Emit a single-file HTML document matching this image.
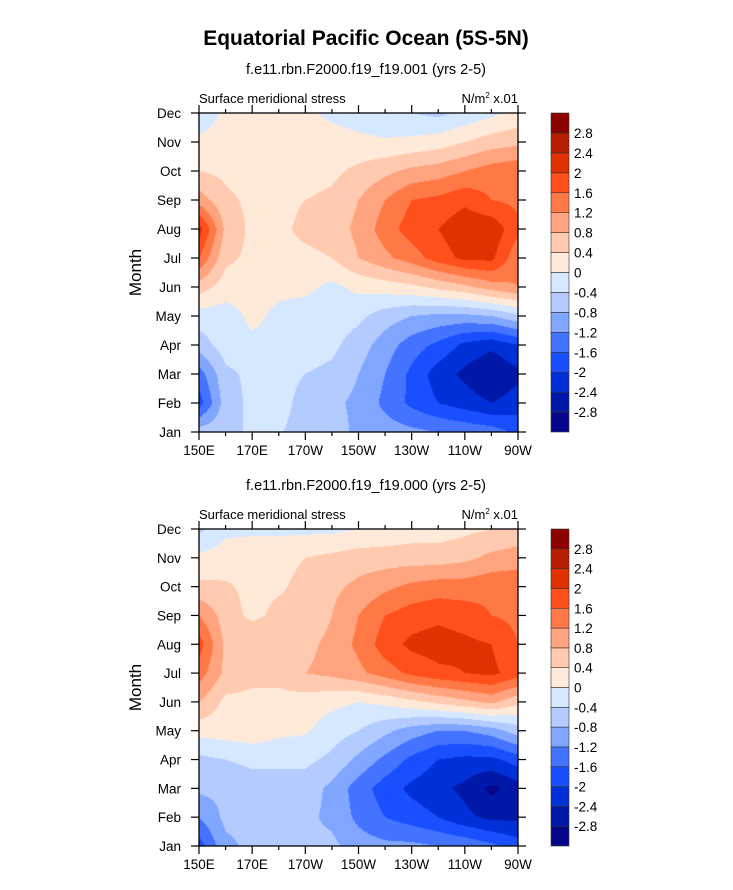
<!DOCTYPE html>
<html><head><meta charset="utf-8">
<style>
html,body{margin:0;padding:0;background:#fff;}
body{width:733px;height:890px;position:relative;overflow:hidden;font-family:"Liberation Sans",Arial,sans-serif;}
canvas{position:absolute;}
svg{position:absolute;left:0;top:0;}
</style></head>
<body>
<canvas id="c1" width="319" height="319" style="left:199px;top:113px;width:319px;height:319px"></canvas>
<canvas id="c2" width="319" height="317" style="left:199px;top:529px;width:319px;height:317px"></canvas>
<svg id="svg" width="733" height="890"></svg>
<script>
const months = ["Jan","Feb","Mar","Apr","May","Jun","Jul","Aug","Sep","Oct","Nov","Dec"];
const lons = [150,160,170,180,190,200,210,220,230,240,250,260,270];
const lonTicks = [150,170,190,210,230,250,270];
const lonTickLabels = ["150E","170E","170W","150W","130W","110W","90W"];
const levels = [-2.8,-2.4,-2,-1.6,-1.2,-0.8,-0.4,0,0.4,0.8,1.2,1.6,2,2.4,2.8];
const levelLabels = ["-2.8","-2.4","-2","-1.6","-1.2","-0.8","-0.4","0","0.4","0.8","1.2","1.6","2","2.4","2.8"];
const colors = ["#06068a","#0018a8","#0030d8","#1a4fff","#4373ff","#80a6ff","#b3cbff","#d6e8ff","#ffeada","#ffcab0","#ffa47e","#ff7946","#ff4f1a","#e03200","#b81e00","#8c0000"];
const field1 = [
 [-0.6,-0.5,-0.35,-0.38,-0.5,-0.6,-0.9,-1.0,-1.1,-1.2,-1.3,-1.4,-1.7],
 [-1.8,-0.6,-0.3,-0.3,-0.5,-0.7,-0.9,-1.3,-1.7,-2.0,-2.2,-2.4,-2.2],
 [-1.4,-0.5,-0.3,-0.3,-0.4,-0.5,-0.8,-1.2,-1.7,-2.2,-2.5,-2.8,-2.5],
 [-0.6,-0.2,-0.1,-0.1,-0.2,-0.3,-0.6,-1.0,-1.4,-1.7,-2.1,-2.3,-2.0],
 [-0.2,-0.2,0.1,-0.1,-0.2,-0.2,-0.3,-0.6,-0.8,-0.9,-0.9,-0.8,-0.5],
 [0.6,0.2,0.2,0.1,0.1,-0.1,0.1,0.2,0.3,0.5,0.7,1.0,1.2],
 [1.6,0.5,0.3,0.3,0.3,0.4,0.8,1.1,1.4,1.8,2.1,2.1,1.3],
 [2.2,0.7,0.3,0.3,0.5,0.6,0.9,1.4,1.8,2.0,2.3,2.3,1.7],
 [1.0,0.5,0.3,0.3,0.4,0.5,0.8,1.2,1.6,1.7,1.9,1.6,1.5],
 [0.4,0.3,0.2,0.2,0.2,0.3,0.5,0.7,0.9,1.0,1.2,1.4,1.5],
 [0.1,0.2,0.2,0.2,0.2,0.2,0.1,0.05,0.1,0.2,0.4,0.6,0.7],
 [-0.3,0.1,0.1,0.0,0.1,-0.1,-0.2,-0.3,-0.4,-0.5,-0.3,-0.1,0.1]
];
const field2 = [
 [-1.8,-0.9,-0.7,-0.7,-0.7,-0.7,-1.0,-1.1,-1.1,-1.2,-1.3,-1.5,-1.8],
 [-1.2,-0.7,-0.7,-0.7,-0.7,-0.9,-1.3,-1.6,-1.8,-2.0,-2.3,-2.5,-2.5],
 [-0.7,-0.7,-0.6,-0.6,-0.6,-0.9,-1.4,-1.8,-2.1,-2.3,-2.5,-2.9,-2.6],
 [-0.5,-0.4,-0.3,-0.3,-0.3,-0.5,-0.9,-1.3,-1.7,-2.0,-2.1,-2.1,-1.8],
 [0.15,0.2,0.25,0.1,0.05,-0.2,-0.4,-0.7,-1.0,-1.2,-1.2,-1.0,-0.6],
 [0.8,0.3,0.3,0.3,0.2,0.1,0.0,0.1,0.3,0.5,0.7,0.9,0.5],
 [1.4,0.7,0.5,0.5,0.8,0.9,1.1,1.4,1.7,1.9,2.0,2.1,1.8],
 [1.8,0.7,0.8,0.8,0.7,0.9,1.3,1.8,2.1,2.2,2.1,2.0,1.6],
 [1.2,0.6,0.3,0.5,0.5,0.8,1.2,1.6,1.8,1.9,1.8,1.6,1.5],
 [0.5,0.45,0.3,0.35,0.5,0.7,0.9,1.1,1.3,1.4,1.4,1.5,1.5],
 [0.1,0.2,0.3,0.3,0.4,0.5,0.6,0.6,0.6,0.6,0.7,0.9,1.0],
 [-0.5,-0.1,-0.1,-0.1,-0.1,-0.1,0.0,0.1,0.2,0.2,0.3,0.4,0.5]
];

function colorFor(v){let i=0;while(i<levels.length&&v>=levels[i])i++;return colors[i];}
function sample(f,lon,m){
  const fx=(lon-lons[0])/(lons[1]-lons[0]);
  const i=Math.min(Math.floor(fx),lons.length-2),tx=fx-i;
  const j=Math.min(Math.floor(m),months.length-2),ty=m-j;
  return (f[j][i]*(1-tx)+f[j][i+1]*tx)*(1-ty)+(f[j+1][i]*(1-tx)+f[j+1][i+1]*tx)*ty;
}
function drawField(id,f){
  const c=document.getElementById(id),ctx=c.getContext('2d');
  const W=c.width,H=c.height;
  for(let py=0;py<H;py++){for(let px=0;px<W;px++){
    const lon=lons[0]+(px+0.5)/W*(lons[lons.length-1]-lons[0]);
    const m=(H-py-0.5)/H*(months.length-1);
    ctx.fillStyle=colorFor(sample(f,lon,m));ctx.fillRect(px,py,1,1);
  }}
}
drawField('c1',field1);drawField('c2',field2);

const NS="http://www.w3.org/2000/svg",svg=document.getElementById('svg');
function el(t,a,txt){const e=document.createElementNS(NS,t);for(const k in a)e.setAttribute(k,a[k]);if(txt!==undefined)e.textContent=txt;svg.appendChild(e);return e;}
let t;
t=el('text',{x:366,y:45,'text-anchor':'middle','font-size':21,'font-weight':'bold'},'Equatorial Pacific Ocean (5S-5N)');



function panel(top,h,sub,k){
  const L=199,R=518,B=top+h;
  const xs=lon=>L+(lon-lons[0])/(lons[lons.length-1]-lons[0])*(R-L);
  const ys=m=>B-m/(months.length-1)*h;
  let e=el('text',{x:366,y:top-39,'text-anchor':'middle','font-size':14.5},sub);
  
  
  e=el('text',{x:L,y:top-10,'font-size':13},'Surface meridional stress');
  
  
  e=el('text',{x:R,y:top-10,'text-anchor':'end','font-size':13});
  e.innerHTML='N/m<tspan dy="-5" font-size="8">2</tspan><tspan dy="5"> x.01</tspan>';
  
  
  e=el('rect',{x:L,y:top,width:R-L,height:h,fill:'none',stroke:'#000','stroke-width':1.3});
  
  
  months.forEach((mn,i)=>{
    const y=ys(i);
    el('line',{x1:L-8,x2:L,y1:y,y2:y,stroke:'#000','stroke-width':1.2});
    el('line',{x1:R,x2:R+8,y1:y,y2:y,stroke:'#000','stroke-width':1.2});
    const tl=el('text',{x:181,y:y+5,'text-anchor':'end','font-size':13.5},mn);
    
    
  });
  lons.forEach(lon=>{
    const x=xs(lon),maj=lonTicks.indexOf(lon)>=0,len=maj?8:4;
    el('line',{x1:x,x2:x,y1:top-len,y2:top,stroke:'#000','stroke-width':1.2});
    el('line',{x1:x,x2:x,y1:B,y2:B+len,stroke:'#000','stroke-width':1.2});
  });
  lonTicks.forEach((lon,i)=>{
    const tl=el('text',{x:xs(lon),y:B+23,'text-anchor':'middle','font-size':13.5},lonTickLabels[i]);
    
    
  });
  e=el('text',{x:0,y:0,'text-anchor':'middle','font-size':17,transform:`translate(141,${top+h/2}) rotate(-90)`},'Month');
  
  
  const cx=551,cw=18,n=colors.length,bh=h/n;
  colors.forEach((c,i)=>{
    const r=el('rect',{x:cx,y:B-(i+1)*bh,width:cw,height:bh,fill:c,stroke:'#333','stroke-width':0.6});
    
    
  });
  levels.forEach((lv,i)=>{
    const tl=el('text',{x:574,y:B-(i+1)*bh+5,'font-size':13.5},levelLabels[i]);
    
    
  });
}
panel(113,319,'f.e11.rbn.F2000.f19_f19.001 (yrs 2-5)','top');
panel(529,317,'f.e11.rbn.F2000.f19_f19.000 (yrs 2-5)','bottom');
</script>
</body></html>
